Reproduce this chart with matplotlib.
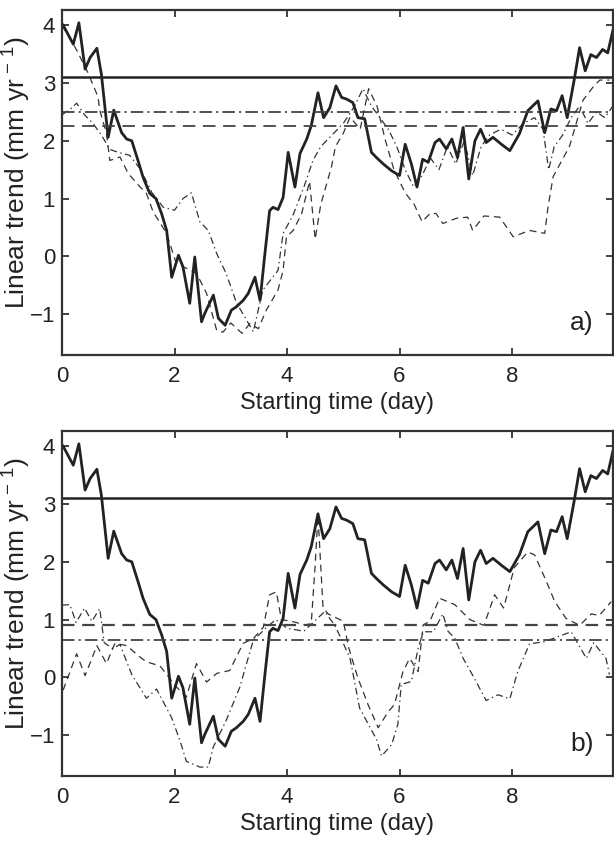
import numpy as np
import matplotlib
matplotlib.use("Agg")
import matplotlib.pyplot as plt

plt.rcParams['font.family'] = ['Liberation Sans', 'DejaVu Sans']
plt.rcParams['mathtext.fontset'] = 'custom'
plt.rcParams['mathtext.rm'] = 'Liberation Sans'
plt.rcParams['mathtext.it'] = 'Liberation Sans'
plt.rcParams['lines.scale_dashes'] = False

# solid (thick) curve, same in both panels
solid_t = [0.02, 0.2, 0.3, 0.41, 0.5, 0.62, 0.7, 0.82, 0.92, 1.06, 1.15, 1.24, 1.36, 1.44,
           1.56, 1.67, 1.77, 1.86, 1.95, 2.07, 2.15, 2.27, 2.36, 2.48, 2.54, 2.69, 2.78, 2.9,
           3.01, 3.1, 3.22, 3.31, 3.43, 3.52, 3.6, 3.69, 3.75, 3.84, 3.93, 4.02, 4.14, 4.23,
           4.35, 4.43, 4.55, 4.65, 4.76, 4.87, 4.97, 5.06, 5.17, 5.26, 5.38, 5.5, 5.59, 5.71,
           5.86, 6.0, 6.1, 6.21, 6.31, 6.41, 6.51, 6.63, 6.71, 6.83, 6.93, 7.03, 7.13, 7.23,
           7.34, 7.44, 7.54, 7.66, 7.81, 7.96, 8.13, 8.28, 8.46, 8.58, 8.69, 8.79, 8.89, 8.98,
           9.1, 9.2, 9.3, 9.4, 9.5, 9.61, 9.7, 9.79]
solid_v = [4.0, 3.67, 4.04, 3.24, 3.44, 3.6, 3.15, 2.06, 2.53, 2.14, 2.03, 2.0, 1.63, 1.37,
           1.09, 1.0, 0.74, 0.45, -0.36, 0.02, -0.18, -0.81, -0.01, -1.13, -0.98, -0.67, -1.07, -1.19,
           -0.93, -0.87, -0.76, -0.64, -0.36, -0.76, -0.01, 0.79, 0.85, 0.81, 1.02, 1.8, 1.2, 1.78,
           2.03, 2.26, 2.83, 2.4, 2.57, 2.95, 2.75, 2.72, 2.66, 2.4, 2.38, 1.8, 1.71, 1.6,
           1.48, 1.4, 1.94, 1.6, 1.2, 1.68, 1.63, 1.97, 2.03, 1.86, 2.03, 1.71, 2.23, 1.34,
           2.0, 2.2, 1.97, 2.06, 1.94, 1.83, 2.12, 2.52, 2.69, 2.14, 2.55, 2.52, 2.78, 2.4,
           3.03, 3.61, 3.21, 3.49, 3.44, 3.58, 3.52, 3.9]

# panel a
a_dash_t = [0.0, 0.26, 0.45, 0.64, 0.67, 0.79, 0.85, 1.03, 1.18, 1.39, 1.5, 1.62, 1.86, 2.03,
            2.2, 2.39, 2.57, 2.75, 2.86, 3.0, 3.2, 3.34, 3.49, 3.63, 3.84, 3.93, 3.99, 4.11,
            4.26, 4.4, 4.5, 4.6, 4.79, 4.86, 5.0, 5.12, 5.3, 5.45, 5.6, 5.75, 5.9, 6.1, 6.26,
            6.4, 6.55, 6.65, 6.77, 7.01, 7.21, 7.3, 7.5, 7.78, 8.02, 8.31, 8.58, 8.64, 8.73,
            9.02, 9.26, 9.44, 9.56, 9.73]
a_dash_v = [4.0, 3.57, 3.2, 2.76, 2.53, 2.13, 1.66, 1.72, 1.43, 1.2, 1.09, 0.77, 0.4, -0.12,
            -0.2, -0.29, -0.64, -1.28, -1.31, -1.15, -1.33, -1.16, -1.25, -0.93, -0.58, -0.24, 0.34, 0.45,
            0.74, 1.3, 0.3, 0.9, 1.55, 1.9, 2.13, 2.41, 2.2, 2.9, 2.6, 2.0, 1.5, 1.1, 0.9,
            0.6, 0.75, 0.74, 0.57, 0.66, 0.68, 0.45, 0.7, 0.68, 0.34, 0.45, 0.4, 0.86, 1.38,
            1.9, 2.7, 2.93, 3.05, 3.05]
a_dot_t = [0.0, 0.15, 0.26, 0.4, 0.55, 0.7, 0.85, 1.0, 1.2, 1.4, 1.6, 1.8, 2.0, 2.15, 2.3,
           2.45, 2.6, 2.75, 2.92, 3.1, 3.25, 3.4, 3.57, 3.84, 3.93, 4.1, 4.3, 4.46, 4.6, 4.8,
           5.0, 5.2, 5.35, 5.5, 5.65, 5.8, 5.95, 6.1, 6.25, 6.4, 6.55, 6.7, 6.85, 7.0, 7.15,
           7.3, 7.45, 7.6, 7.8, 8.0, 8.2, 8.4, 8.55, 8.65, 8.75, 8.9, 9.05, 9.2, 9.35, 9.5,
           9.65, 9.79]
a_dot_v = [2.45, 2.55, 2.65, 2.45, 2.3, 2.1, 1.85, 1.8, 1.75, 1.5, 1.1, 0.85, 0.8, 1.0, 1.1,
           0.6, 0.45, 0.05, -0.3, -0.8, -1.05, -1.3, -0.58, -0.24, 0.4, 0.7, 1.2, 1.66, 1.9, 2.1,
           2.3, 2.6, 2.9, 2.6, 2.4, 2.2, 1.9, 1.5, 1.2, 1.4, 1.7, 1.5, 1.9, 1.6, 2.0,
           1.4, 1.9, 2.1, 2.2, 2.1, 2.3, 2.4, 2.2, 1.5, 1.9, 2.1, 2.4, 2.6, 2.3, 2.5,
           2.4, 2.6]
a_levels = [3.1, 2.5, 2.25]   # solid, dash-dot, dashed

# panel b
b_dash_t = [0.02, 0.26, 0.41, 0.62, 0.79, 0.94, 1.15, 1.39, 1.5, 1.74, 2.04, 2.21, 2.39, 2.57,
            2.75, 2.98, 3.22, 3.4, 3.58, 3.69, 3.81, 3.9, 4.08, 4.32, 4.43, 4.5, 4.55, 4.64,
            4.73, 5.0, 5.1, 5.26, 5.44, 5.62, 5.8, 5.91, 6.06, 6.18, 6.33, 6.42, 6.54, 6.71,
            6.98, 7.25, 7.5, 7.69, 7.85, 8.04, 8.28, 8.4, 8.61, 8.76, 8.96, 9.2, 9.41, 9.55, 9.76]
b_dash_v = [-0.22, 0.41, 0.03, 0.55, 0.24, 0.59, 0.55, 0.35, 0.27, 0.2, -0.17, -0.34, 0.24, -0.08,
            0.07, 0.12, 0.59, 0.67, 0.87, 1.43, 1.48, 1.0, 0.97, 0.91, 0.93, 1.95, 2.8, 1.2,
            1.1, 0.97, 0.5, -0.01, -0.47, -0.87, -0.59, -0.47, 0.1, 0.33, 0.1, 0.91, 0.97, 1.37,
            1.26, 1.0, 0.9, 1.43, 1.2, 1.9, 2.17, 2.12, 1.66, 1.31, 1.02, 0.9, 1.1, 1.07, 1.31]
b_dot_t = [0.0, 0.14, 0.25, 0.4, 0.53, 0.67, 0.75, 0.9, 1.03, 1.15, 1.24, 1.5, 1.68, 1.95, 2.1,
           2.21, 2.33, 2.45, 2.6, 2.69, 2.92, 3.16, 3.28, 3.4, 3.64, 3.8, 4.0, 4.3, 4.67, 4.85,
           5.0, 5.12, 5.29, 5.59, 5.68, 5.86, 5.97, 6.03, 6.21, 6.33, 6.42, 6.6, 6.77, 6.86,
           6.98, 7.13, 7.31, 7.54, 7.75, 7.96, 8.1, 8.31, 8.58, 8.8, 9.05, 9.32, 9.45, 9.67, 9.73]
b_dot_v = [1.25, 1.26, 0.95, 1.2, 0.97, 1.19, 0.6, 0.5, 0.57, 0.27, 0.05, -0.36, -0.2, -0.7, -1.1,
           -1.45, -1.5, -1.55, -1.55, -1.2, -0.74, -0.17, 0.24, 0.64, 0.87, 1.0, 0.85, 0.8, 1.14, 0.9,
           0.59, 0.33, -0.53, -1.07, -1.36, -1.16, -0.81, -0.12, -0.07, 0.5, 0.79, 0.79, 1.1, 0.8,
           0.68, 0.33, 0.02, -0.4, -0.3, -0.37, 0.1, 0.58, 0.62, 0.7, 0.79, 0.33, 0.6, 0.33, 0.05]
b_levels = [3.1, 0.9, 0.65]   # solid, dashed, dash-dot

xticks = [0, 2, 4, 6, 8]
yticks = [-1, 0, 1, 2, 3, 4]

dash = (0, (5, 3.5))
dashdot = (0, (5, 2.5, 1, 2.5))
hdash = (0, (9, 5.5))
hdashdot = (0, (9, 3, 1.5, 3))

fig = plt.figure(figsize=(6.14, 8.42), dpi=100)
ax_a = fig.add_axes([0.101, 0.578, 0.897, 0.41])
ax_b = fig.add_axes([0.101, 0.078, 0.897, 0.41])


def style(ax, label):
    ax.set_xlim(0, 9.79)
    ax.set_ylim(-1.71, 4.26)
    ax.set_xticks(xticks)
    ax.set_yticks(yticks)
    ax.set_yticklabels(['\u22121', '0', '1', '2', '3', '4'])
    ax.tick_params(direction='in', top=True, right=True, length=5, width=1.2,
                   labelsize=16, colors='#222222')
    ax.tick_params(axis='x', pad=8)
    ax.tick_params(axis='y', pad=5)
    for s in ax.spines.values():
        s.set_linewidth(1.6)
        s.set_color('#333333')
    ax.set_xlabel('Starting time (day)', fontsize=17, color='#222222', labelpad=3)
    ax.set_ylabel(r'Linear trend (mm yr$^{\,-\,1}$)', fontsize=19, color='#222222')
    ax.yaxis.set_label_coords(-0.052, 0.53)
    ax.text(0.965, 0.06, label, transform=ax.transAxes, fontsize=19,
            ha='right', va='bottom', color='#222222')


# panel a
ax_a.plot(a_dash_t, a_dash_v, color='#333333', lw=0.9, linestyle=dash)
ax_a.plot(a_dot_t, a_dot_v, color='#333333', lw=0.9, linestyle=dashdot)
ax_a.plot(solid_t, solid_v, color='#222222', lw=2.0)
ax_a.axhline(a_levels[0], color='#222222', lw=1.8)
ax_a.axhline(a_levels[1], color='#444444', lw=1.3, linestyle=hdashdot)
ax_a.axhline(a_levels[2], color='#444444', lw=1.3, linestyle=hdash)
style(ax_a, 'a)')

# panel b
ax_b.plot(b_dash_t, b_dash_v, color='#333333', lw=0.9, linestyle=dash)
ax_b.plot(b_dot_t, b_dot_v, color='#333333', lw=0.9, linestyle=dashdot)
ax_b.plot(solid_t, solid_v, color='#222222', lw=2.0)
ax_b.axhline(b_levels[0], color='#222222', lw=1.8)
ax_b.axhline(b_levels[1], color='#444444', lw=1.6, linestyle=hdash)
ax_b.axhline(b_levels[2], color='#444444', lw=1.3, linestyle=hdashdot)
style(ax_b, 'b)')

fig.savefig('out.png', dpi=100)
